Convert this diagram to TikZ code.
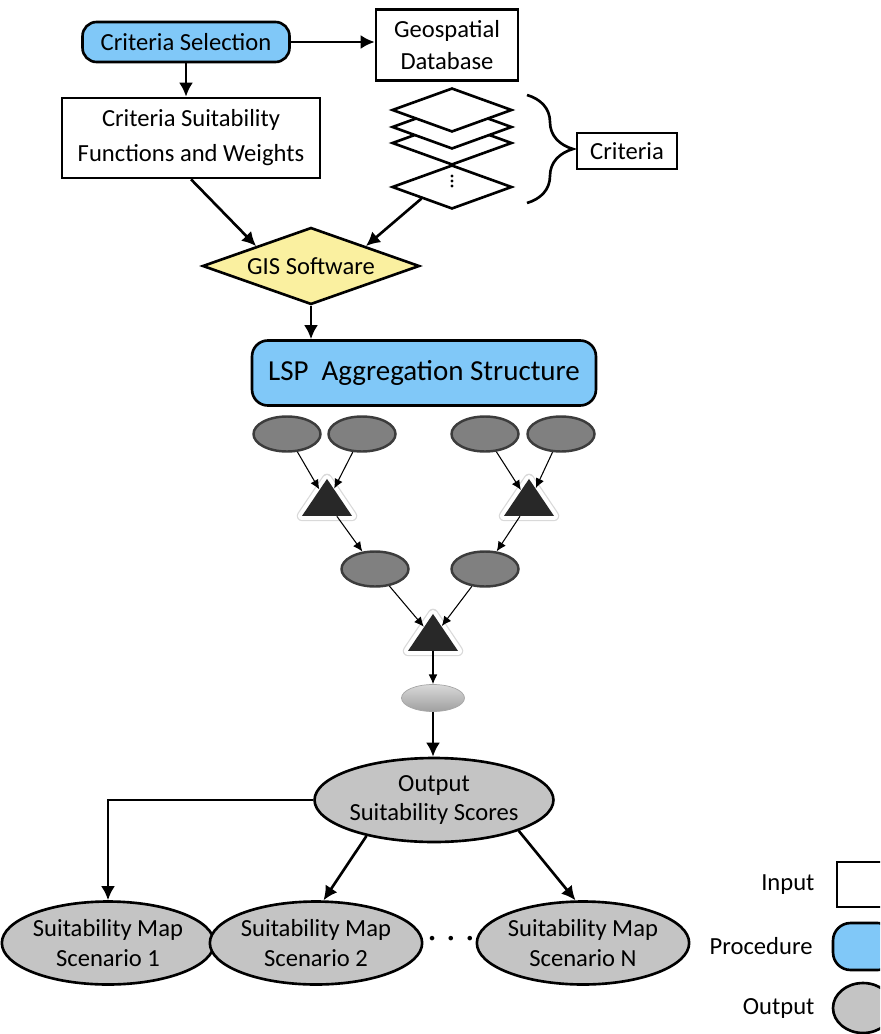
\documentclass[tikz,border=0pt]{standalone}
\usepackage{fontspec}
\setmainfont{Carlito}
\usetikzlibrary{positioning, arrows.meta, shapes.geometric, decorations.pathreplacing}
\definecolor{cProc}{HTML}{80C8F8}
\definecolor{cGis}{HTML}{FAF0A0}
\definecolor{cOut}{HTML}{C4C4C4}
\definecolor{cAgg}{HTML}{808080}
\definecolor{cAggLine}{HTML}{3C3C3C}
\definecolor{cTri}{HTML}{282828}

\begin{document}
\begin{tikzpicture}[
    x=0.02cm, y=-0.02cm,
    >={Latex[length=8pt, width=8pt]},
    txt/.style={font=\fontsize{14}{17}\selectfont, align=center},
    inbox/.style={txt, draw, line width=1.5pt, fill=white, inner sep=0pt},
    proc/.style={txt, draw, rounded corners=8pt, fill=cProc, line width=1.5pt, inner sep=0pt},
    outell/.style={txt, ellipse, draw, fill=cOut, line width=1.5pt, inner sep=0pt},
    layer/.style={diamond, draw, fill=white, line width=1.5pt,
        minimum width=2.4cm, minimum height=0.88cm, inner sep=0pt},
    aggell/.style={ellipse, draw=cAggLine, fill=cAgg, line width=1.4pt,
        minimum width=1.34cm, minimum height=0.7cm, inner sep=0pt},
    aggop/.style={isosceles triangle, isosceles triangle stretches,
        shape border rotate=90, fill=cTri, inner sep=0pt, anchor=apex,
        minimum width=1.0cm, minimum height=0.74cm,
        preaction={draw=black!15, line width=6pt, line join=round},
        preaction={draw=white, line width=4.6pt, line join=round}},
    arr/.style={->, line width=1.5pt},
    thinarr/.style={-{Latex[length=5.5pt, width=5pt]}, line width=0.6pt},
]
\useasboundingbox (0,0) rectangle (880,1034);
\clip (0,0) rectangle (880,1034);

% =============================================
% CRITERIA AND DATA
% =============================================

\node[proc, minimum width=4.14cm, minimum height=0.8cm] (critsel) at (186,42) {Criteria Selection};
\node[inbox, minimum width=2.84cm, minimum height=1.42cm] (geodb) at (447,45) {Geospatial\\[1pt]Database};
\node[inbox, minimum width=5.16cm, minimum height=1.6cm] (critfun) at (191,138)
    {Criteria Suitability\\[3pt]Functions and Weights};

\draw[arr] (critsel.east) -- (critsel.east -| geodb.west);
\draw[arr] (critsel.south) -- (critsel.south |- critfun.north);

% stacked criteria layers, drawn bottom first
\node[layer] (lay4) at (452,187) {};
\node[layer] (lay3) at (452,143) {};
\node[layer] (lay2) at (452,127) {};
\node[layer] (lay1) at (452,110) {};
% ellipsis in the last layer
\foreach \dy in {176,181,186}
    \fill (452,\dy) circle[radius=1.6];

\draw[decorate, decoration={brace, amplitude=0.92cm}, line width=1.5pt]
    (527,95) -- (527,203);
\node[inbox, minimum width=2.0cm, minimum height=0.72cm] (crit) at (627,151) {Criteria};

% =============================================
% GIS + LSP
% =============================================

\node[txt, diamond, draw, fill=cGis, line width=1.5pt, aspect=2.8, inner sep=0pt,
      minimum width=4.34cm, minimum height=1.54cm] (gis) at (311,266) {GIS Software};

\draw[arr] (critfun.south) -- (gis.north west);
\draw[arr] (lay4.south west) -- (gis.north east);

\node[proc, font=\fontsize{16.5}{19}\selectfont, rounded corners=9pt,
      minimum width=6.88cm, minimum height=1.3cm] (lsp) at (424,373) {LSP~ Aggregation Structure};

\draw[arr] (gis.south) -- (gis.south |- lsp.north);

% =============================================
% AGGREGATION TREE
% =============================================

\node[aggell] (in1) at (287,434) {};
\node[aggell] (in2) at (362,434) {};
\node[aggell] (in3) at (485,434) {};
\node[aggell] (in4) at (561,434) {};

\node[aggop] (op1) at (327,478) {};
\node[aggop] (op2) at (529,478) {};

\node[aggell] (mid1) at (375,569) {};
\node[aggell] (mid2) at (485,569) {};

\node[aggop] (op3) at (433,613) {};

\node[ellipse, draw=gray!70, top color=gray!30, bottom color=gray!75, line width=0.4pt,
      minimum width=1.26cm, minimum height=0.54cm] (res) at (433,698) {};

\draw[thinarr] (in1) -- (op1);
\draw[thinarr] (in2) -- (op1);
\draw[thinarr] (in3) -- (op2);
\draw[thinarr] (in4) -- (op2);
\draw[thinarr] (op1) -- (mid1);
\draw[thinarr] (op2) -- (mid2);
\draw[thinarr] (mid1) -- (op3);
\draw[thinarr] (mid2) -- (op3);
\draw[thinarr] (op3) -- (res);

% =============================================
% OUTPUTS
% =============================================

\node[outell, minimum width=4.32cm, minimum height=1.68cm] (outsc) at (434,800)
    {Output\\Suitability Scores};
\draw[arr] (res.south) -- (res.south |- outsc.north);

\node[outell, minimum width=3.88cm, minimum height=1.66cm] (map1) at (108,943) {Suitability Map\\Scenario 1};
\node[outell, minimum width=3.88cm, minimum height=1.66cm] (map2) at (316,943) {Suitability Map\\Scenario 2};
\node[outell, minimum width=3.88cm, minimum height=1.66cm] (mapN) at (583,943) {Suitability Map\\Scenario N};
\node[txt, font=\fontsize{14}{17}\selectfont\bfseries] (mapdots) at (451,941)
    {\textperiodcentered\hspace{7pt}\textperiodcentered\hspace{7pt}\textperiodcentered};

\draw[arr] (outsc.west) -| (map1.north);
\draw[arr] (outsc.208) -- (map2.80);
\draw[arr] (outsc.340) -- (mapN.100);

% =============================================
% LEGEND
% =============================================

\node[inbox, minimum width=1.24cm, minimum height=0.9cm] (legin) at (868,884.5) {};
\node[proc, rounded corners=10pt, minimum width=1.24cm, minimum height=0.94cm] (legproc) at (864,946.5) {};
\node[outell, minimum width=1.2cm, minimum height=1.0cm] (legout) at (863,1008) {};
\node[txt, left=0.3cm of legin] (legintxt) {Input};
\node[txt, left=0.26cm of legproc] (legproctxt) {Procedure};
\node[txt, left=0.22cm of legout] (legouttxt) {Output};

\end{tikzpicture}
\end{document}
